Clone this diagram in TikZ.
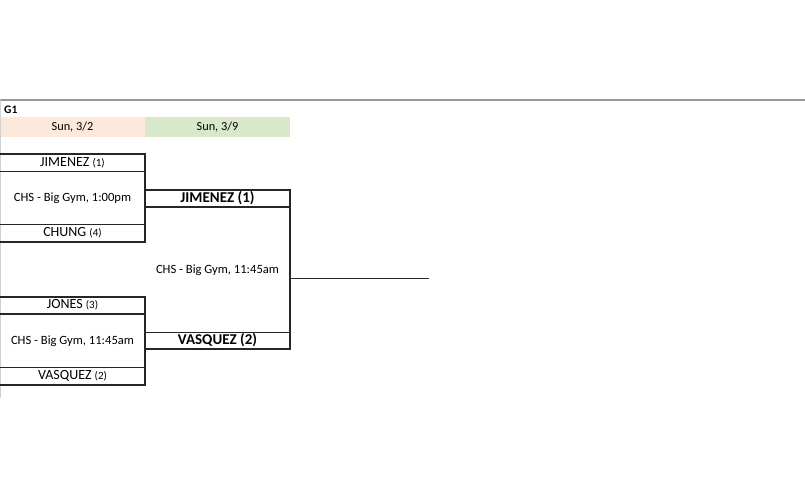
\documentclass[tikz,border=0pt]{standalone}
\usepackage{fontspec}
\setmainfont{Carlito}
\begin{document}
\begin{tikzpicture}[x=1pt,y=-1pt,
  line/.style={draw=black!85, line width=1.4pt},
  team/.style={font=\fontsize{14}{15}\selectfont, inner sep=0pt, anchor=center},
  venue/.style={font=\fontsize{12.6}{14}\selectfont, inner sep=0pt, anchor=center},
  hdr/.style={font=\fontsize{12.3}{14}\selectfont, inner sep=0pt, anchor=center},
  win/.style={font=\bfseries\fontsize{15}{16}\selectfont, inner sep=0pt, anchor=center}]
\useasboundingbox (0,0) rectangle (805,500);
% sheet lines
\draw[draw=black!40, line width=1.2pt] (0,100) -- (805,100);
\draw[draw=black!18, line width=1pt] (0.5,100) -- (0.5,398);
% headers
\fill[fill={rgb,255:red,252;green,233;blue,219}] (1,117.5) rectangle (144.5,137);
\fill[fill={rgb,255:red,217;green,232;blue,203}] (144.5,117.5) rectangle (290,137);
\node[font=\bfseries\fontsize{11.5}{12}\selectfont, anchor=west, inner sep=0pt] (g1) at (4,110) {G1};
\node[hdr] (d1) at (72.5,127) {Sun, 3/2};
\node[hdr] (d2) at (217.5,127) {Sun, 3/9};
% round 1, game 1
\draw[line] (0,154) -- (145,154) -- (145,242) -- (0,242);
\draw[line] (0,171.5) -- (145,171.5);
\draw[line] (0,224.5) -- (145,224.5);
\node[team] (t1) at (72.5,162.5) {JIMENEZ {\fontsize{11}{12}\selectfont (1)}};
\node[venue] (v1) at (72.5,198) {CHS - Big Gym, 1:00pm};
\node[team] (t4) at (72.5,233) {CHUNG {\fontsize{11}{12}\selectfont (4)}};
% round 1, game 2
\draw[line] (0,297) -- (145,297) -- (145,385) -- (0,385);
\draw[line] (0,314) -- (145,314);
\draw[line] (0,367.5) -- (145,367.5);
\node[team] (t3) at (72.5,305) {JONES {\fontsize{11}{12}\selectfont (3)}};
\node[venue] (v2) at (72.5,341) {CHS - Big Gym, 11:45am};
\node[team] (t2) at (72.5,376) {VASQUEZ {\fontsize{11}{12}\selectfont (2)}};
% round 2
\draw[line] (145,190) -- (290,190) -- (290,349) -- (145,349) -- (145,332.5) -- (290,332.5);
\draw[line] (145,207) -- (290,207);
\node[win] (w1) at (217.5,198) {JIMENEZ (1)};
\node[venue] (v3) at (217.5,270) {CHS - Big Gym, 11:45am};
\node[win] (w2) at (217.5,340.5) {VASQUEZ (2)};
% final
\coordinate (fin) at (429,278.5);
\coordinate (fst) at (290,278.5);
\draw[line] (fst) -- (fin);
\end{tikzpicture}
\end{document}
